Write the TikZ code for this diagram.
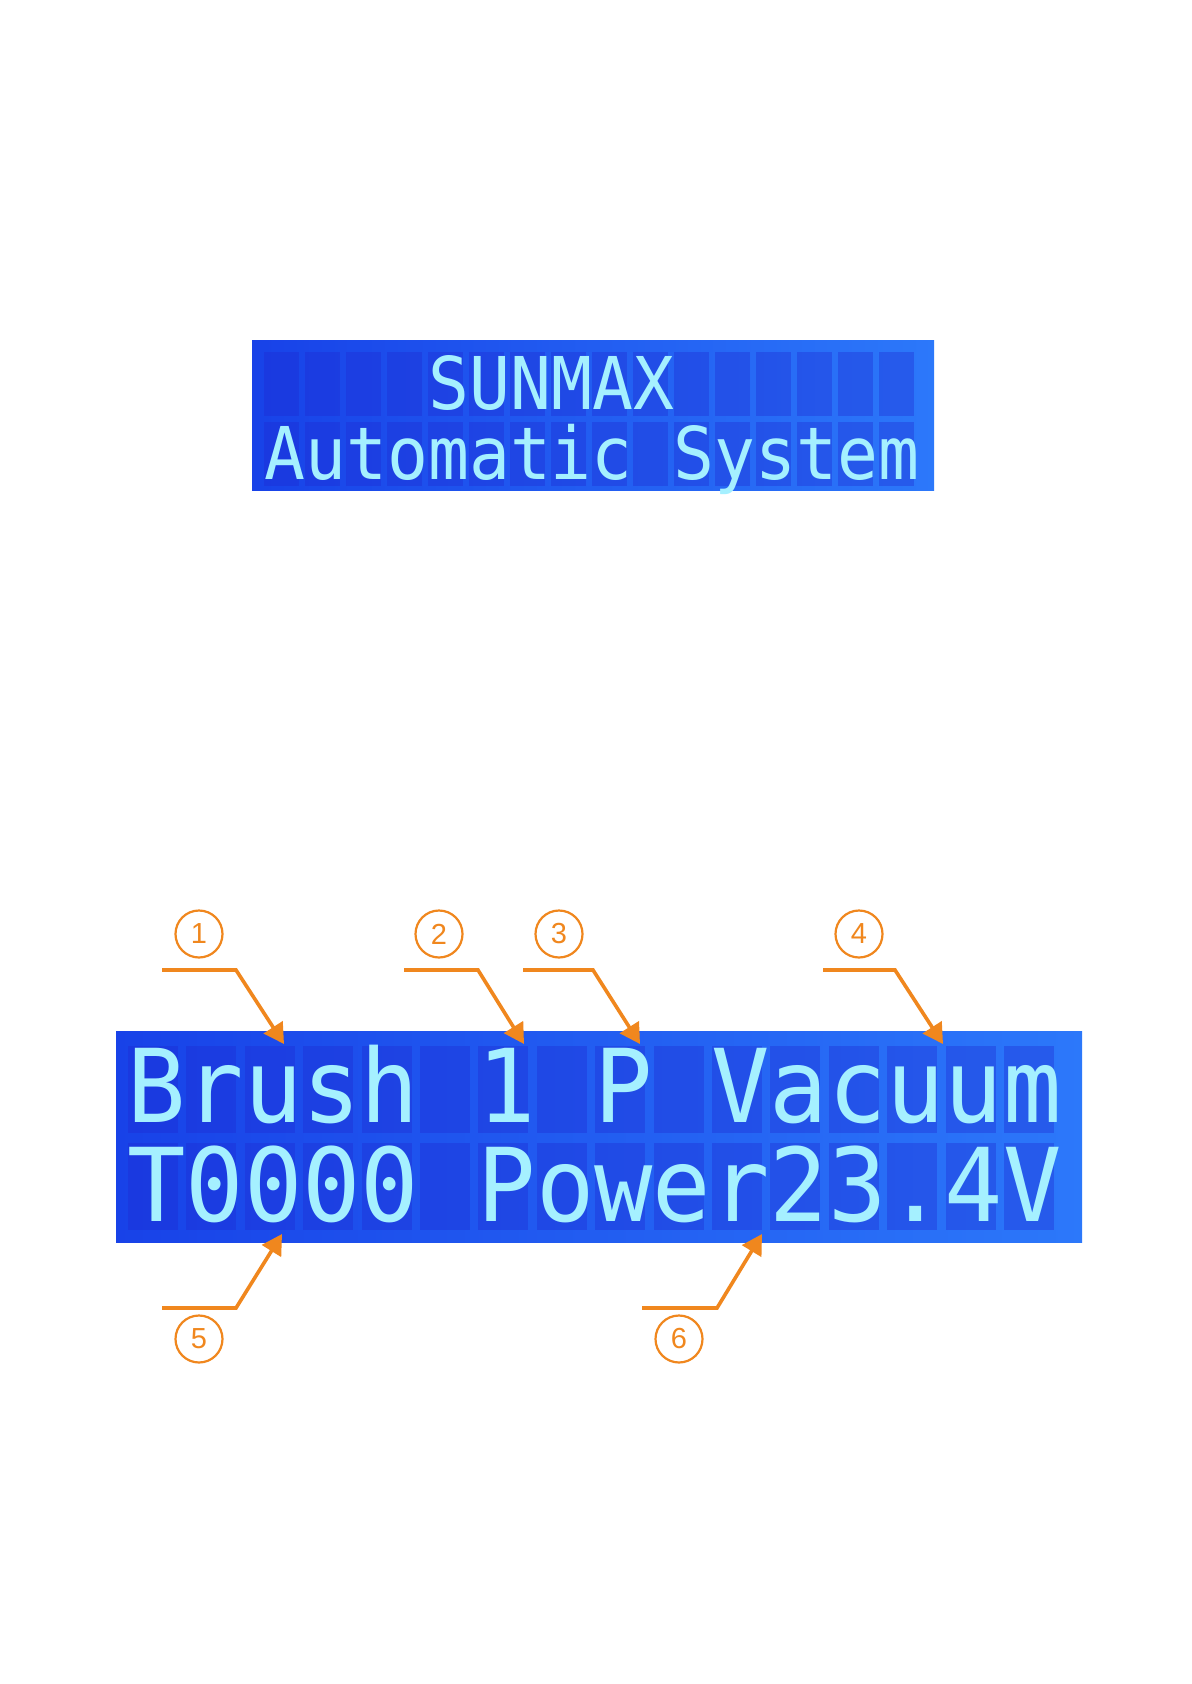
\documentclass[tikz,border=0pt]{standalone}
\usepackage{fontspec}
\usepackage{graphicx}
\usetikzlibrary{arrows.meta}
\newfontfamily\lcdfont{DejaVu Sans Mono}
\newfontfamily\numfont{Liberation Sans}
\definecolor{lcdL}{RGB}{24,66,232}
\definecolor{lcdR}{RGB}{44,120,250}
\definecolor{cellc}{RGB}{30,40,210}
\definecolor{dotc}{RGB}{165,240,255}
\definecolor{orng}{RGB}{240,135,30}
\tikzset{
  panel/.style={draw=none, inner sep=0pt, left color=lcdL, right color=lcdR},
  cell/.style={fill=cellc, fill opacity=0.35},
  lcdB/.style={inner sep=0pt, anchor=base west, text=dotc, font=\lcdfont\fontsize{48.5pt}{50pt}\selectfont},
  lcdT/.style={inner sep=0pt, anchor=base west, text=dotc, font=\lcdfont\fontsize{34pt}{36pt}\selectfont},
  callnum/.style={circle, draw=orng, line width=1.1pt, minimum size=23.5pt, inner sep=0pt, text=orng, font=\numfont\fontsize{14.5pt}{15pt}\selectfont},
  callout/.style={draw=orng, line width=1.8pt, line join=miter, -{Triangle[length=10pt, width=11pt]}}
}
\begin{document}
\begin{tikzpicture}[x=0.5pt, y=-0.5pt]
\path[use as bounding box, fill=white] (0,0) rectangle (1192,1684);

% ---- top LCD ----
\node[panel, minimum width=341pt, minimum height=74.5pt] (top) at (593,415.5) {};
\foreach \i in {0,...,15} {
  \fill[cell] ({264+\i*41},352) rectangle ++(35,64);
  \fill[cell] ({264+\i*41},422) rectangle ++(35,64);
}
\node[lcdT] (tA) at ({264+4*41},409) {\scalebox{1}[1.07]{SUNMAX}};
\node[lcdT] (tB) at (264,480) {\scalebox{1}[1.07]{Automatic System}};

% ---- bottom LCD ----
\node[panel, minimum width=483pt, minimum height=105.5pt] (bot) at (599,1136.5) {};
\foreach \i in {0,...,15} {
  \fill[cell] ({128+\i*58.4},1046) rectangle ++(50,87);
  \fill[cell] ({128+\i*58.4},1143) rectangle ++(50,87);
}
\node[lcdB] (bA) at (127,1122) {\scalebox{1}[1.05]{Brush 1 P Vacuum}};
\node[lcdB] (bB) at (127,1221) {\scalebox{1}[1.05]{T0000 Power23.4V}};

% ---- callouts ----
\node[callnum] (n1) at (199,934) {1};
\node[callnum] (n2) at (439,934) {2};
\node[callnum] (n3) at (559,934) {3};
\node[callnum] (n4) at (859,934) {4};
\node[callnum] (n5) at (199,1339) {5};
\node[callnum] (n6) at (679,1339) {6};

\coordinate (s1) at (162,970); \coordinate (k1) at (236,970); \coordinate (p1) at (284,1044);
\coordinate (s2) at (404,970); \coordinate (k2) at (478,970); \coordinate (p2) at (524,1044);
\coordinate (s3) at (523,970); \coordinate (k3) at (593,970); \coordinate (p3) at (640,1044);
\coordinate (s4) at (823,970); \coordinate (k4) at (895,970); \coordinate (p4) at (943,1044);
\coordinate (s5) at (162,1308); \coordinate (k5) at (236,1308); \coordinate (p5) at (282,1234);
\coordinate (s6) at (642,1308); \coordinate (k6) at (717,1308); \coordinate (p6) at (762,1234);

\foreach \j in {1,...,6} {
  \draw[callout] (s\j) -- (k\j) -- (p\j);
}
\end{tikzpicture}
\end{document}
